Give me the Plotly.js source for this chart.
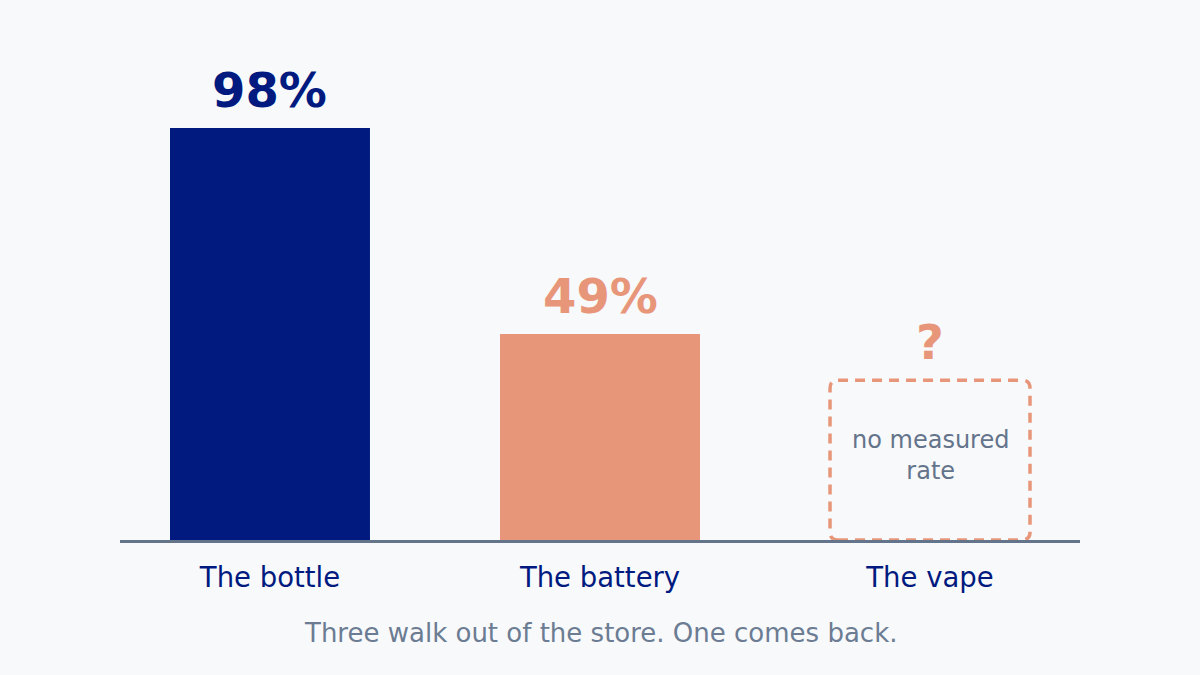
<!DOCTYPE html>
<html>
<head>
<meta charset="utf-8">
<script src="https://cdn.plot.ly/plotly-3.0.1.min.js"></script>
<style>
  html, body { margin: 0; padding: 0; background: #f8f9fb; }
  #plot { width: 1200px; height: 675px; }
</style>
</head>
<body>
<div id="plot"></div>
<script>
// data
const categories = ['The bottle', 'The battery', 'The vape'];
const rates = [98, 49, null];
const rateLabels = ['98%', '49%', '?'];
const barColors = ['#001a80', '#e8967a', '#e8967a'];
// the vape has no measured rate: a dashed frame stands in for it
const placeholderHeight = 38;
const noteText = 'no measured<br>rate';
const caption = 'Three walk out of the store. One comes back.';

const NAVY = '#001a80';
const ORANGE = '#e8967a';
const SLATE = '#64748b';
const FONT = '"DejaVu Sans", Verdana, sans-serif';

const xs = categories.map((c, i) => i);
const barWidth = 0.606;

const data = [{
  type: 'bar',
  x: xs,
  y: rates,
  width: barWidth,
  marker: { color: barColors },
  hoverinfo: 'skip',
  showlegend: false,
}];

// value labels sit on top of the bar (or the frame when there is no value)
const annotations = xs.map((x, i) => ({
  x: x,
  y: rates[i] == null ? placeholderHeight : rates[i],
  xref: 'x',
  yref: 'y',
  text: '<b>' + rateLabels[i] + '</b>',
  showarrow: false,
  yanchor: 'bottom',
  yshift: 8,
  font: { family: FONT, size: 48, color: barColors[i] },
}));

const missing = rates.findIndex(v => v == null);

annotations.push({
  x: xs[missing],
  y: placeholderHeight / 2,
  xref: 'x',
  yref: 'y',
  yshift: 5,
  text: noteText,
  showarrow: false,
  font: { family: FONT, size: 24, color: SLATE },
  align: 'center',
});

// caption under the tick labels
annotations.push({
  x: 0.5,
  y: -0.22,
  xref: 'paper',
  yref: 'paper',
  text: caption,
  showarrow: false,
  font: { family: FONT, size: 26, color: '#6b7c93' },
});

// rounded dashed frame, corners ~8px in data units
const xRange = [-0.4545, 2.4545];
const yRange = [0, 118.93];
const rx = 8 / 330;
const ry = 8 / 4.204;
const x0 = xs[missing] - barWidth / 2;
const x1 = xs[missing] + barWidth / 2;
const y0 = 0;
const y1 = placeholderHeight;
const framePath = [
  `M${x0 + rx},${y0}`, `L${x1 - rx},${y0}`, `Q${x1},${y0} ${x1},${y0 + ry}`,
  `L${x1},${y1 - ry}`, `Q${x1},${y1} ${x1 - rx},${y1}`,
  `L${x0 + rx},${y1}`, `Q${x0},${y1} ${x0},${y1 - ry}`,
  `L${x0},${y0 + ry}`, `Q${x0},${y0} ${x0 + rx},${y0}`, 'Z',
].join(' ');

const layout = {
  width: 1200,
  height: 675,
  paper_bgcolor: '#f8f9fb',
  plot_bgcolor: '#f8f9fb',
  margin: { l: 120, r: 120, t: 40, b: 135 },
  font: { family: FONT },
  xaxis: {
    range: xRange,
    tickvals: xs,
    ticktext: categories,
    showgrid: false,
    zeroline: false,
    showline: true,
    linecolor: SLATE,
    linewidth: 3,
    ticks: '',
    ticklabelstandoff: 11,
    tickfont: { family: FONT, size: 27.5, color: NAVY },
    fixedrange: true,
  },
  yaxis: {
    range: yRange,
    visible: false,
    fixedrange: true,
  },
  shapes: [{
    type: 'path',
    xref: 'x',
    yref: 'y',
    path: framePath,
    line: { color: ORANGE, width: 3.5, dash: '10px,7px' },
    fillcolor: 'rgba(0,0,0,0)',
    layer: 'above',
  }],
  annotations: annotations,
};

Plotly.newPlot('plot', data, layout, { displayModeBar: false, staticPlot: true });
</script>
</body>
</html>
